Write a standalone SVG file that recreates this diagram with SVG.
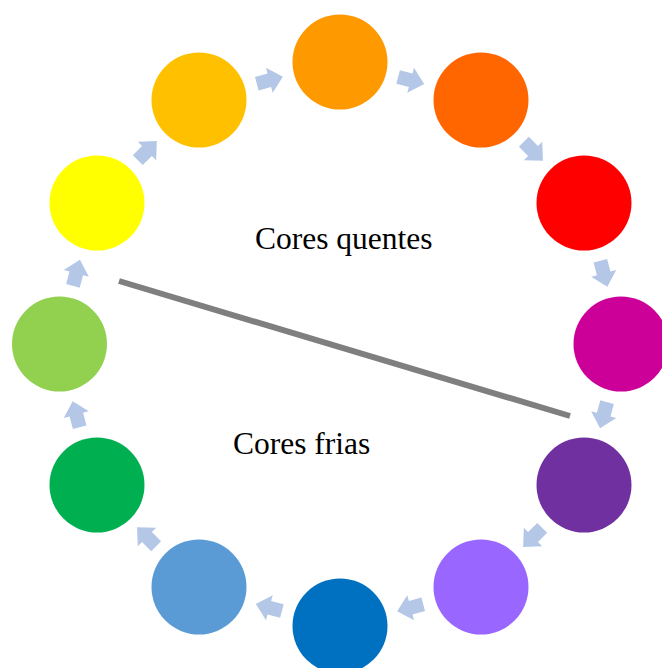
<svg xmlns="http://www.w3.org/2000/svg" width="662" height="668" viewBox="0 0 662 668">
<style>
.lbl{font-family:"Liberation Serif","Times New Roman",serif;font-size:31.5px;fill:#000}
.arr{fill:#B4C7E7}
</style>
<defs>
<polygon id="ar" points="-13,-7 0,-7 0,-13 14,0 0,13 0,7 -13,7"/>
</defs>
<rect width="662" height="668" fill="#fff"/>
<g id="connectors">
<g class="arr">
<use href="#ar" transform="rotate(-15 340 344) translate(340 71)"/>
<use href="#ar" transform="rotate(15 340 344) translate(340 71)"/>
<use href="#ar" transform="rotate(45 340 344) translate(340 71)"/>
<use href="#ar" transform="rotate(75 340 344) translate(340 71)"/>
<use href="#ar" transform="rotate(105 340 344) translate(340 71)"/>
<use href="#ar" transform="rotate(135 340 344) translate(340 71)"/>
<use href="#ar" transform="rotate(165 340 344) translate(340 71)"/>
<use href="#ar" transform="rotate(195 340 344) translate(340 71)"/>
<use href="#ar" transform="rotate(225 340 344) translate(340 71)"/>
<use href="#ar" transform="rotate(255 340 344) translate(340 71)"/>
<use href="#ar" transform="rotate(285 340 344) translate(340 71)"/>
<use href="#ar" transform="rotate(315 340 344) translate(340 71)"/>
</g>
</g>
<g id="n1"><circle cx="340" cy="62" r="47.5" fill="#FF9900"/></g>
<g id="n2"><circle cx="481" cy="100" r="47.5" fill="#FF6600"/></g>
<g id="n3"><circle cx="584" cy="203" r="47.5" fill="#FF0000"/></g>
<g id="n4"><circle cx="621" cy="344" r="47.5" fill="#CC0099"/></g>
<g id="n5"><circle cx="584" cy="485" r="47.5" fill="#7030A0"/></g>
<g id="n6"><circle cx="481" cy="587" r="47.5" fill="#9966FF"/></g>
<g id="n7"><circle cx="340" cy="626" r="47.5" fill="#0070C0"/></g>
<g id="n8"><circle cx="199" cy="587" r="47.5" fill="#5B9BD5"/></g>
<g id="n9"><circle cx="97" cy="485" r="47.5" fill="#00B050"/></g>
<g id="n10"><circle cx="59.5" cy="344" r="47.5" fill="#92D050"/></g>
<g id="n11"><circle cx="97" cy="203" r="47.5" fill="#FFFF00"/></g>
<g id="n12"><circle cx="199" cy="100" r="47.5" fill="#FFC000"/></g>
<g id="divider"><line x1="119" y1="281" x2="570" y2="416" stroke="#7F7F7F" stroke-width="6"/></g>
<g id="warm"><text class="lbl" x="255" y="249">Cores quentes</text></g>
<g id="cold"><text class="lbl" x="233" y="454">Cores frias</text></g>
</svg>
